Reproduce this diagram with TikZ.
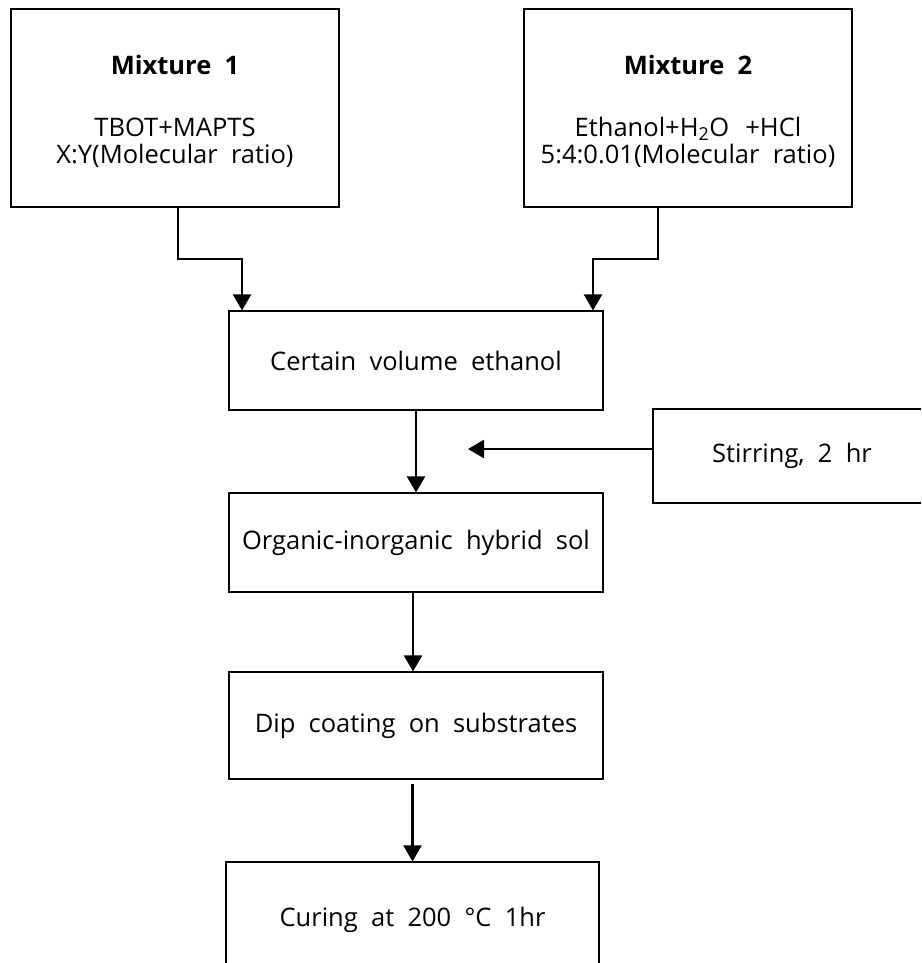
\documentclass[tikz,border=0pt]{standalone}
\usepackage{fontspec}
\setmainfont[WordSpace=2]{Open Sans}
\usetikzlibrary{arrows.meta}

\begin{document}
\begin{tikzpicture}[x=1pt,y=-1pt,
  box/.style={draw, line width=1.1pt, inner sep=0pt, align=center,
              font=\fontsize{25.5}{27}\selectfont},
  txt/.style={inner sep=0pt, align=center, font=\fontsize{25.5}{27}\selectfont},
  flow/.style={line width=2.2pt, -{Triangle[width=18pt,length=16pt]}}]
\useasboundingbox (0,0) rectangle (921,963);
\clip (0,0) rectangle (921,963);
\fill[white] (0,0) rectangle (921,963);

% starting mixtures
\node[box, minimum width=328, minimum height=198] (m1) at (175,108) {};
\node[txt] (m1txt) at (175,111)
  {\textbf{Mixture\ 1}\\[35pt]TBOT+MAPTS\\X:Y(Molecular ratio)};
\node[box, minimum width=328, minimum height=198] (m2) at (688,108) {};
\node[txt] (m2txt) at (688,111)
  {\textbf{Mixture\ 2}\\[35pt]Ethanol+H\textsubscript{2}O\ \kern3pt+HCl\\5:4:0.01(Molecular ratio)};

% process steps
\node[box, minimum width=374, minimum height=99] (cert) at (416,360.5) {Certain volume ethanol};
\node[box, minimum width=278, minimum height=94] (stir) at (792,456) {Stirring, 2 hr};
\node[box, minimum width=374, minimum height=99] (org) at (416,542.5) {Organic-inorganic hybrid sol};
\node[box, minimum width=374, minimum height=107] (dip) at (416,725.5) {Dip coating on substrates};
\node[box, minimum width=373, minimum height=116] (cure) at (412.5,920) {Curing at 200 °C 1hr};

% connectors
\coordinate (j1) at (242,259);
\coordinate (j2) at (593,259);
\coordinate (stirtip) at (468,449);
\coordinate (dipout) at ([yshift=-4pt]dip.south);
\draw[flow] ([xshift=3pt]m1.south) |- (j1) -- (cert.north -| j1);
\draw[flow] ([xshift=-30pt]m2.south) |- (j2) -- (cert.north -| j2);
\draw[flow] (cert.south) -- (org.north);
\draw[flow] (stir.west |- stirtip) -- (stirtip);
\draw[flow] ([xshift=-3pt]org.south) -- ([xshift=-3pt]dip.north);
\draw[flow] (cure.north |- dipout) -- (cure.north);
\end{tikzpicture}
\end{document}
